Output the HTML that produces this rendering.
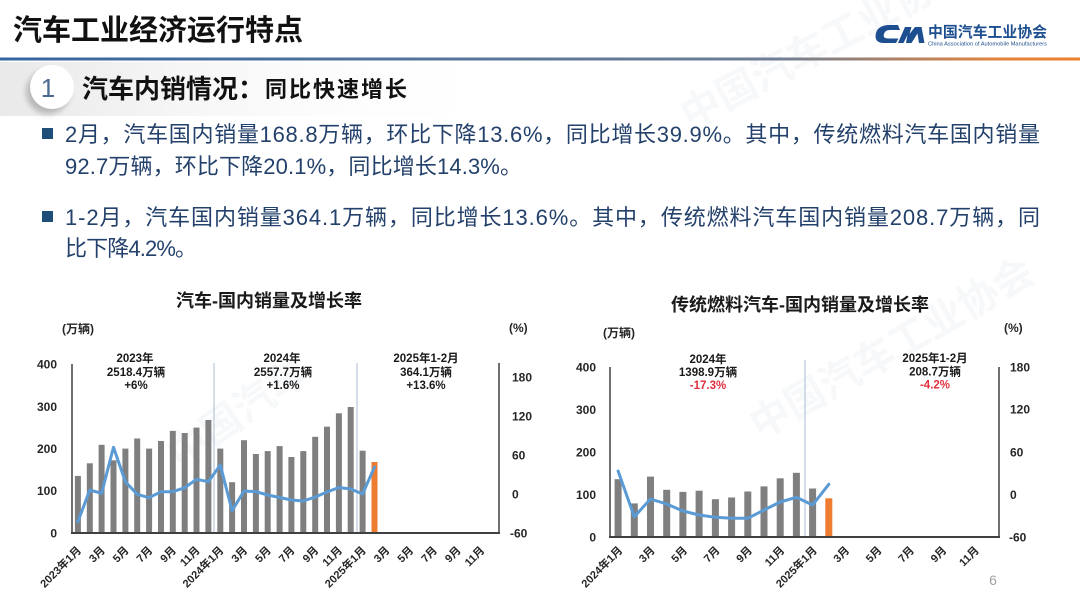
<!DOCTYPE html>
<html>
<head>
<meta charset="utf-8">
<style>
  html,body{margin:0;padding:0;background:#fff;}
  body{width:1080px;height:607px;overflow:hidden;}
  svg{display:block;}
  text{font-family:"Liberation Sans","Noto Sans CJK SC",sans-serif;}
</style>
</head>
<body>
<svg width="1080" height="607" viewBox="0 0 1080 607" xmlns="http://www.w3.org/2000/svg">
  <defs>
    <linearGradient id="hl" x1="0" y1="0" x2="1" y2="0">
      <stop offset="0" stop-color="#3566a0"/>
      <stop offset="0.72" stop-color="#6f7f95"/>
      <stop offset="0.93" stop-color="#e5833a"/>
      <stop offset="1" stop-color="#ec7f2c"/>
    </linearGradient>
    <linearGradient id="band" x1="0" y1="0" x2="1" y2="0">
      <stop offset="0" stop-color="#e9e9e9"/>
      <stop offset="0.35" stop-color="#f6f6f6"/>
      <stop offset="1" stop-color="#ffffff" stop-opacity="0"/>
    </linearGradient>
    <filter id="sh" x="-50%" y="-50%" width="200%" height="200%">
      <feGaussianBlur stdDeviation="3"/>
    </filter>
  </defs>

  <rect width="1080" height="607" fill="#ffffff"/>

  <!-- faint watermarks -->
  <g fill="#e9edf3" font-weight="bold" opacity="0.4">
    <text x="0" y="0" font-size="40" transform="translate(690,130) rotate(-28)">中国汽车工业协会</text>
    <text x="0" y="0" font-size="40" transform="translate(180,470) rotate(-35)">中国汽车</text>
    <text x="0" y="0" font-size="40" transform="translate(760,440) rotate(-30)">中国汽车工业协会</text>
  </g>

  <!-- Header -->
  <text x="13" y="40" font-size="29" font-weight="bold" fill="#111">汽车工业经济运行特点</text>
  <rect x="0" y="57.5" width="1080" height="3" fill="url(#hl)"/>

  <!-- Logo -->
  <g fill="#1d4e8f">
    <path d="M898 25 L888 25 Q876 26 875.5 36 Q875.5 43 884 43 L896 43 L898.5 38.5 L888 38.5 Q883 38.5 883.8 34.5 Q884.8 30 890 30 L900 30 Z"/>
    <polygon points="898,43 905,27 911.5,27 909.5,34 915,27 921.5,27 924.5,43 919,43 917.5,33.5 911.5,43 906,43 907.5,35 903.5,43"/>
  </g>
  <text x="928" y="37" font-size="15" font-weight="bold" fill="#1d4e8f" textLength="119" lengthAdjust="spacingAndGlyphs">中国汽车工业协会</text>
  <text x="928" y="45.5" font-size="5.5" fill="#1d4e8f" textLength="119" lengthAdjust="spacingAndGlyphs">China Association of Automobile Manufacturers</text>

  <!-- Section header -->
  <rect x="0" y="62" width="520" height="54" fill="url(#band)"/>
  <circle cx="48" cy="92" r="22" fill="#b8b8b8" filter="url(#sh)"/>
  <circle cx="52" cy="87" r="22" fill="#ffffff"/>
  <text x="48" y="97" font-size="26" fill="#4a6a90" text-anchor="middle">1</text>
  <text x="82" y="98" font-size="26" font-weight="bold" fill="#111">汽车内销情况：</text>
  <text x="265" y="97" font-size="22" font-weight="bold" fill="#111" textLength="142">同比快速增长</text>

  <!-- Bullets -->
  <rect x="42" y="128" width="11" height="11" fill="#1f4e79"/>
  <rect x="42" y="211" width="11" height="11" fill="#1f4e79"/>
  <g font-size="22" fill="#24416b">
    <text x="65" y="142" textLength="975">2月，汽车国内销量168.8万辆，环比下降13.6%，同比增长39.9%。其中，传统燃料汽车国内销量</text>
    <text x="65" y="174" textLength="457">92.7万辆，环比下降20.1%，同比增长14.3%。</text>
    <text x="65" y="225" textLength="975">1-2月，汽车国内销量364.1万辆，同比增长13.6%。其中，传统燃料汽车国内销量208.7万辆，同</text>
    <text x="65" y="256" textLength="132">比下降4.2%。</text>
  </g>

  <!-- ===== Left chart ===== -->
  <text x="269" y="307" font-size="18" font-weight="bold" fill="#1a1a1a" text-anchor="middle">汽车-国内销量及增长率</text>
  <text x="62" y="333" font-size="12" font-weight="bold" fill="#262626">(万辆)</text>
  <text x="509" y="332" font-size="12" font-weight="bold" fill="#262626">(%)</text>

  <g font-size="12" font-weight="bold" fill="#262626" text-anchor="end">
    <text x="57" y="368.5">400</text>
    <text x="57" y="411">300</text>
    <text x="57" y="453">200</text>
    <text x="57" y="495">100</text>
    <text x="57" y="537.5">0</text>
  </g>
  <g font-size="12" font-weight="bold" fill="#262626">
    <text x="512" y="381.5">180</text>
    <text x="512" y="420.5">120</text>
    <text x="512" y="459.5">60</text>
    <text x="512" y="498.5">0</text>
    <text x="510" y="537.5">-60</text>
  </g>

  <!-- dividers -->
  <line x1="214" y1="363" x2="214" y2="533" stroke="#a9bbd0" stroke-width="1"/>
  <line x1="357" y1="363" x2="357" y2="533" stroke="#a9bbd0" stroke-width="1"/>

  <!-- bars -->
  <g fill="#7f7f7f">
    <rect x="74.9" y="475.9" width="6" height="57.1"/>
    <rect x="86.8" y="463.3" width="6" height="69.7"/>
    <rect x="98.6" y="444.8" width="6" height="88.2"/>
    <rect x="110.5" y="460.3" width="6" height="72.7"/>
    <rect x="122.4" y="448.6" width="6" height="84.4"/>
    <rect x="134.2" y="438.5" width="6" height="94.5"/>
    <rect x="146.1" y="448.6" width="6" height="84.4"/>
    <rect x="158.0" y="441.0" width="6" height="92.0"/>
    <rect x="169.8" y="430.9" width="6" height="102.1"/>
    <rect x="181.7" y="433.0" width="6" height="100.0"/>
    <rect x="193.5" y="427.6" width="6" height="105.4"/>
    <rect x="205.4" y="420.0" width="6" height="113.0"/>
    <rect x="217.3" y="448.6" width="6" height="84.4"/>
    <rect x="229.1" y="482.2" width="6" height="50.8"/>
    <rect x="241.0" y="440.2" width="6" height="92.8"/>
    <rect x="252.9" y="454.0" width="6" height="79.0"/>
    <rect x="264.7" y="451.1" width="6" height="81.9"/>
    <rect x="276.6" y="446.1" width="6" height="86.9"/>
    <rect x="288.4" y="457.0" width="6" height="76.0"/>
    <rect x="300.3" y="451.1" width="6" height="81.9"/>
    <rect x="312.2" y="436.8" width="6" height="96.2"/>
    <rect x="324.0" y="426.7" width="6" height="106.3"/>
    <rect x="335.9" y="413.3" width="6" height="119.7"/>
    <rect x="347.7" y="407.0" width="6" height="126.0"/>
    <rect x="359.6" y="450.7" width="6" height="82.3"/>
  </g>
  <rect x="371.5" y="462.0" width="6" height="71.0" fill="#ed7d31"/>

  <!-- growth line -->
  <polyline fill="none" stroke="#5b9bd5" stroke-width="3" stroke-linejoin="round" stroke-linecap="round"
    points="77.9,521.7 89.8,490 101.6,493.3 113.5,447.3 125.4,481.7 137.2,494.3 149.1,497.7 161,491.7 172.8,491.7 184.7,487.7 196.5,479.3 208.4,481.7 220.3,465 232.1,510.7 244,491 255.9,491.7 267.7,495 279.6,497.5 291.4,500 303.3,501 315.2,497 327,492 338.9,487.5 350.7,489 362.6,494 374.5,467"/>

  <!-- axes -->
  <line x1="72" y1="364" x2="72" y2="534" stroke="#404040" stroke-width="1.5"/>
  <line x1="499" y1="363" x2="499" y2="534" stroke="#404040" stroke-width="1.5"/>
  <line x1="71" y1="533" x2="500" y2="533" stroke="#404040" stroke-width="2"/>

  <!-- annotations -->
  <g font-size="11.5" font-weight="bold" fill="#1a1a1a" text-anchor="middle">
    <text x="135" y="362">2023年</text>
    <text x="136" y="376">2518.4万辆</text>
    <text x="136" y="389">+6%</text>
    <text x="282" y="362">2024年</text>
    <text x="283" y="376">2557.7万辆</text>
    <text x="283" y="389">+1.6%</text>
    <text x="426" y="362">2025年1-2月</text>
    <text x="426" y="376">364.1万辆</text>
    <text x="426" y="389">+13.6%</text>
  </g>

  <!-- x labels -->
  <g font-size="11" font-weight="bold" fill="#262626" text-anchor="end">
    <text transform="translate(81.9,551) rotate(-45)">2023年1月</text>
    <text transform="translate(105.6,551) rotate(-45)">3月</text>
    <text transform="translate(129.4,551) rotate(-45)">5月</text>
    <text transform="translate(153.1,551) rotate(-45)">7月</text>
    <text transform="translate(176.8,551) rotate(-45)">9月</text>
    <text transform="translate(200.5,551) rotate(-45)">11月</text>
    <text transform="translate(224.3,551) rotate(-45)">2024年1月</text>
    <text transform="translate(248.0,551) rotate(-45)">3月</text>
    <text transform="translate(271.7,551) rotate(-45)">5月</text>
    <text transform="translate(295.4,551) rotate(-45)">7月</text>
    <text transform="translate(319.2,551) rotate(-45)">9月</text>
    <text transform="translate(342.9,551) rotate(-45)">11月</text>
    <text transform="translate(366.6,551) rotate(-45)">2025年1月</text>
    <text transform="translate(390.3,551) rotate(-45)">3月</text>
    <text transform="translate(414.0,551) rotate(-45)">5月</text>
    <text transform="translate(437.8,551) rotate(-45)">7月</text>
    <text transform="translate(461.5,551) rotate(-45)">9月</text>
    <text transform="translate(485.2,551) rotate(-45)">11月</text>
  </g>

  <!-- ===== Right chart ===== -->
  <text x="800" y="311" font-size="18" font-weight="bold" fill="#1a1a1a" text-anchor="middle">传统燃料汽车-国内销量及增长率</text>
  <text x="603" y="337" font-size="12" font-weight="bold" fill="#262626">(万辆)</text>
  <text x="1004" y="332" font-size="12" font-weight="bold" fill="#262626">(%)</text>

  <g font-size="12" font-weight="bold" fill="#262626" text-anchor="end">
    <text x="596" y="371.5">400</text>
    <text x="596" y="414">300</text>
    <text x="596" y="456.5">200</text>
    <text x="596" y="499">100</text>
    <text x="596" y="541.5">0</text>
  </g>
  <g font-size="12" font-weight="bold" fill="#262626">
    <text x="1010" y="371.5">180</text>
    <text x="1010" y="413.5">120</text>
    <text x="1010" y="456.5">60</text>
    <text x="1010" y="499">0</text>
    <text x="1009" y="541.5">-60</text>
  </g>

  <line x1="805" y1="360" x2="805" y2="537" stroke="#a9bbd0" stroke-width="1"/>

  <g fill="#7f7f7f">
    <rect x="614.6" y="479.2" width="7" height="57.8"/>
    <rect x="630.8" y="503.4" width="7" height="33.6"/>
    <rect x="647.0" y="476.6" width="7" height="60.4"/>
    <rect x="663.2" y="489.8" width="7" height="47.2"/>
    <rect x="679.4" y="491.9" width="7" height="45.1"/>
    <rect x="695.6" y="490.7" width="7" height="46.3"/>
    <rect x="711.9" y="499.2" width="7" height="37.8"/>
    <rect x="728.1" y="497.5" width="7" height="39.5"/>
    <rect x="744.3" y="491.5" width="7" height="45.5"/>
    <rect x="760.5" y="486.4" width="7" height="50.6"/>
    <rect x="776.7" y="478.3" width="7" height="58.7"/>
    <rect x="792.9" y="472.8" width="7" height="64.2"/>
    <rect x="809.1" y="488.5" width="7" height="48.5"/>
  </g>
  <rect x="825.3" y="498.3" width="7" height="38.7" fill="#ed7d31"/>

  <polyline fill="none" stroke="#5b9bd5" stroke-width="3" stroke-linejoin="round" stroke-linecap="round"
    points="618.1,471 634.3,516.7 650.5,499 666.7,504 682.9,511 699.1,515 715.4,517.3 731.6,518.3 747.8,518.3 764,510 780.2,502 796.4,497.3 812.6,505 828.8,484.3"/>

  <line x1="610" y1="367" x2="610" y2="538" stroke="#404040" stroke-width="1.5"/>
  <line x1="999" y1="367" x2="999" y2="538" stroke="#404040" stroke-width="1.5"/>
  <line x1="609" y1="537" x2="1000" y2="537" stroke="#404040" stroke-width="2"/>

  <g font-size="11.5" font-weight="bold" text-anchor="middle">
    <text x="708" y="363" fill="#1a1a1a">2024年</text>
    <text x="708" y="376" fill="#1a1a1a">1398.9万辆</text>
    <text x="708" y="389" fill="#e0303e">-17.3%</text>
    <text x="935" y="362" fill="#1a1a1a">2025年1-2月</text>
    <text x="935" y="375.5" fill="#1a1a1a">208.7万辆</text>
    <text x="935" y="388.5" fill="#e0303e">-4.2%</text>
  </g>

  <g font-size="11" font-weight="bold" fill="#262626" text-anchor="end">
    <text transform="translate(623.1,551) rotate(-45)">2024年1月</text>
    <text transform="translate(655.5,551) rotate(-45)">3月</text>
    <text transform="translate(687.9,551) rotate(-45)">5月</text>
    <text transform="translate(720.4,551) rotate(-45)">7月</text>
    <text transform="translate(752.8,551) rotate(-45)">9月</text>
    <text transform="translate(785.2,551) rotate(-45)">11月</text>
    <text transform="translate(817.6,551) rotate(-45)">2025年1月</text>
    <text transform="translate(850.0,551) rotate(-45)">3月</text>
    <text transform="translate(882.4,551) rotate(-45)">5月</text>
    <text transform="translate(914.8,551) rotate(-45)">7月</text>
    <text transform="translate(947.2,551) rotate(-45)">9月</text>
    <text transform="translate(979.6,551) rotate(-45)">11月</text>
  </g>

  <!-- page number -->
  <text x="993" y="585" font-size="14" fill="#a0a0a0" text-anchor="middle">6</text>
</svg>
</body>
</html>
